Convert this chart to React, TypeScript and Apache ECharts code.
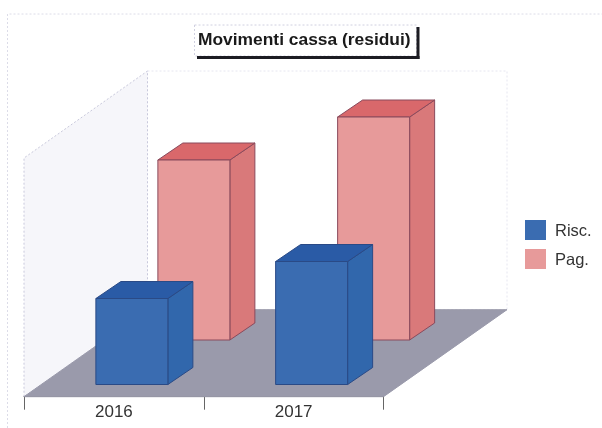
import React, { useEffect, useRef } from "react";
import * as echarts from "echarts";

const titleText = "Movimenti cassa (residui)";
const categories = ["2016", "2017"];
const riscName = "Risc.";
const pagName = "Pag.";
// heights (arbitrary units: no value axis is shown)
const riscValues = [86, 123];
const pagValues = [180, 223];

const riscColors = { front: "#3a6cb1", top: "#2a5ba6", side: "#3167ac", edge: "#2a4a86" };
const pagColors = { front: "#e79a9a", top: "#d9686b", side: "#d9797a", edge: "#8a4a5c" };

const poly = (points: number[][], fill: string, stroke: string, lineDash?: number[]) => ({
  type: "polygon",
  shape: { points },
  style: { fill, stroke, lineWidth: 1, lineDash },
});

const makeBox = (colors: typeof riscColors, laneX: number, laneY: number) => (params: any, api: any) => {
  const cat = api.value(0);
  const base = api.coord([cat, 0]);
  const top = api.coord([cat, api.value(1)]);
  const halfW = 36;
  const cx = base[0] + laneX;
  const by = base[1] - laneY;
  const ty = top[1] - laneY;
  const l = cx - halfW;
  const r = cx + halfW;
  const dx = 25;
  const dy = 17;
  return {
    type: "group",
    children: [
      poly([[r, ty], [r + dx, ty - dy], [r + dx, by - dy], [r, by]], colors.side, colors.edge),
      poly([[l, ty], [l + dx, ty - dy], [r + dx, ty - dy], [r, ty]], colors.top, colors.edge),
      poly([[l, ty], [r, ty], [r, by], [l, by]], colors.front, colors.edge),
    ],
  };
};

const renderScene = (params: any) => {
  const c = params.coordSys;
  const l = c.x;
  const r = c.x + c.width;
  const b = c.y + c.height;
  const dx = 123.5;
  const dy = 87;
  const wallH = 238.7;
  return {
    type: "group",
    silent: true,
    children: [
      poly([[l + dx, b - dy - wallH], [r + dx, b - dy - wallH], [r + dx, b - dy], [l + dx, b - dy]], "#ffffff", "#e6e6f0", [2, 2]),
      poly([[l, b], [l, b - wallH], [l + dx, b - dy - wallH], [l + dx, b - dy]], "#f6f6fa", "#c9c9dc", [2, 2]),
      poly([[l, b], [r, b], [r + dx, b - dy], [l + dx, b - dy]], "#9a9aab", "#9a9aab"),
    ],
  };
};

export default function App() {
  const ref = useRef<HTMLDivElement>(null);
  useEffect(() => {
    const chart = echarts.init(ref.current!, undefined, { renderer: "svg" });
    chart.setOption({
      animation: false,
      backgroundColor: "#ffffff",
      title: {
        text: titleText,
        left: 198,
        top: 30,
        padding: 0,
        textStyle: { fontFamily: "Liberation Sans", fontSize: 17.4, fontWeight: "bold", color: "#1a1a1a" },
      },
      legend: {
        data: [riscName, pagName],
        orient: "vertical",
        left: 525,
        top: 220,
        padding: 0,
        itemWidth: 21,
        itemHeight: 20,
        itemGap: 9,
        icon: "rect",
        textStyle: { fontFamily: "Liberation Sans", fontSize: 16.5, color: "#333333", padding: [0, 0, 0, 4] },
      },
      grid: { left: 24, right: 218.5, top: 156.7, bottom: 31.3 },
      xAxis: {
        type: "category",
        data: categories,
        axisLine: { show: true, lineStyle: { color: "#444444", width: 1 } },
        axisTick: { show: true, length: 13, alignWithLabel: false, lineStyle: { color: "#666666" } },
        axisLabel: { fontFamily: "Liberation Sans", fontSize: 17, color: "#333333", margin: 6 },
      },
      yAxis: { type: "value", min: 0, max: 240, show: false, splitLine: { show: false } },
      graphic: [
        { type: "polyline", silent: true, shape: { points: [[7.5, 428], [7.5, 14], [602, 14]] }, style: { fill: "none", stroke: "#dcdce8", lineWidth: 1, lineDash: [2, 2] } },
        { type: "rect", silent: true, shape: { x: 194.5, y: 25, width: 222, height: 31 }, style: { fill: "#ffffff", stroke: "#d0d0e0", lineWidth: 1, lineDash: [2, 2] } },
        { type: "rect", silent: true, shape: { x: 197, y: 56, width: 222.5, height: 3 }, style: { fill: "#1c1c22" } },
        { type: "rect", silent: true, shape: { x: 416.5, y: 27, width: 3, height: 32 }, style: { fill: "#1c1c22" } },
      ],
      series: [
        {
          type: "custom",
          name: "scene",
          z: 1,
          silent: true,
          clip: false,
          data: [[0, 0]],
          encode: { x: 0, y: 1 },
          renderItem: renderScene,
        },
        {
          type: "custom",
          name: riscName,
          z: 4,
          clip: false,
          itemStyle: { color: riscColors.front },
          data: riscValues.map((v, i) => [i, v]),
          encode: { x: 0, y: 1 },
          renderItem: makeBox(riscColors, 18, 12.2),
        },
        {
          type: "custom",
          name: pagName,
          z: 3,
          clip: false,
          itemStyle: { color: pagColors.front },
          data: pagValues.map((v, i) => [i, v]),
          encode: { x: 0, y: 1 },
          renderItem: makeBox(pagColors, 80, 56.7),
        },
      ],
    });
    return () => chart.dispose();
  }, []);
  return (
    <div
      ref={ref}
      style={{ position: "fixed", left: 0, top: 0, width: 602, height: 428, filter: "blur(0.4px)" }}
    />
  );
}
